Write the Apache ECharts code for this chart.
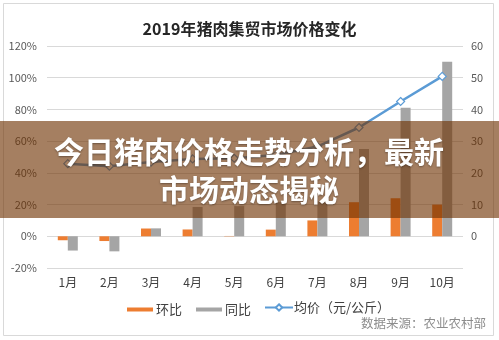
<!DOCTYPE html>
<html>
<head>
<meta charset="utf-8">
<script src="https://cdn.jsdelivr.net/npm/echarts@6/dist/echarts.min.js"></script>
<style>
  html, body { margin: 0; padding: 0; background: #fff; }
  #chart { width: 499px; height: 340px; }
</style>
</head>
<body>
<div id="chart"></div>
<script>
// Months on the category axis
const months = ['1月', '2月', '3月', '4月', '5月', '6月', '7月', '8月', '9月', '10月'];
// Month-on-month change (环比), fraction
const momChange = [-0.025, -0.03, 0.049, 0.043, 0.002, 0.042, 0.10, 0.215, 0.24, 0.20];
// Year-on-year change (同比), fraction
const yoyChange = [-0.09, -0.095, 0.05, 0.185, 0.19, 0.215, 0.22, 0.55, 0.81, 1.10];
// Average market price, yuan per kg
const avgPrice = [22.9, 22.1, 23.4, 24.4, 24.6, 25.6, 28.3, 34.3, 42.5, 50.4];
// Left axis ticks (percent) and right axis ticks (yuan)
const leftTicks = { min: -0.2, max: 1.2, step: 0.2 };
const rightTicks = { min: -10, max: 60, step: 10 };

const FONT = '"Noto Sans CJK SC", "Noto Sans", sans-serif';
const chart = echarts.init(document.getElementById('chart'), null, { renderer: 'canvas' });

chart.setOption({
  backgroundColor: '#ffffff',
  animation: false,
  title: {
    text: '2019年猪肉集贸市场价格变化',
    left: 'center',
    top: 14,
    textStyle: { fontFamily: FONT, fontSize: 16, fontWeight: 'bold', color: '#262626', lineHeight: 20 }
  },
  grid: { left: 47, right: 36, top: 46, bottom: 72, containLabel: false },
  legend: [
    {
      data: ['环比', '同比'],
      left: 122, top: 298,
      itemWidth: 26, itemHeight: 4, itemGap: 14,
      icon: 'rect',
      textStyle: { fontFamily: FONT, fontSize: 13, color: '#404040', padding: [0, 0, 0, -2] }
    },
    {
      data: ['均价（元/公斤）'],
      left: 259, top: 296,
      itemWidth: 28, itemHeight: 8,
      textStyle: { fontFamily: FONT, fontSize: 13, color: '#404040', padding: [0, 0, 0, -4] }
    }
  ],
  xAxis: {
    type: 'category',
    data: months,
    axisLine: { onZero: false, show: false },
    axisTick: { show: false },
    axisLabel: { fontFamily: FONT, fontSize: 12, color: '#404040', margin: 8 }
  },
  yAxis: [
    {
      type: 'value',
      min: leftTicks.min, max: leftTicks.max, interval: leftTicks.step,
      axisLine: { show: false }, axisTick: { show: false },
      splitLine: { lineStyle: { color: '#d9d9d9', width: 1 } },
      axisLabel: {
        fontFamily: FONT, fontSize: 11, color: '#595959', margin: 10,
        formatter: v => Math.round(v * 100) + '%'
      }
    },
    {
      type: 'value',
      min: rightTicks.min, max: rightTicks.max, interval: rightTicks.step,
      axisLine: { show: false }, axisTick: { show: false },
      splitLine: { show: false },
      axisLabel: {
        fontFamily: FONT, fontSize: 11, color: '#595959', margin: 8,
        formatter: v => (v < 0 ? '' : String(v))
      }
    }
  ],
  series: [
    {
      name: '环比', type: 'bar', data: momChange,
      barWidth: 10, barGap: '0%',
      itemStyle: { color: '#ed7d31' }
    },
    {
      name: '同比', type: 'bar', data: yoyChange,
      barWidth: 10, barGap: '0%',
      itemStyle: { color: '#a5a5a5' }
    },
    {
      name: '均价（元/公斤）', type: 'line', yAxisIndex: 1, data: avgPrice,
      symbol: 'diamond', symbolSize: 8, showSymbol: true,
      lineStyle: { color: '#5b9bd5', width: 2.5 },
      itemStyle: { color: '#ffffff', borderColor: '#5b9bd5', borderWidth: 1.2 },
      z: 5
    }
  ],
  graphic: [
    {
      type: 'rect', z: 0, silent: true,
      shape: { x: 3.5, y: 3.5, width: 490, height: 332 },
      style: { fill: 'none', stroke: '#d9d9d9', lineWidth: 1 }
    },
    {
      type: 'text', z: 0, silent: true,
      x: 486, y: 323,
      style: {
        text: '数据来源：农业农村部', fill: '#8c8c8c',
        fontFamily: FONT, fontSize: 12.5, align: 'right', verticalAlign: 'middle'
      }
    },
    {
      type: 'rect', z: 100, silent: true,
      shape: { x: 0, y: 121, width: 499, height: 97 },
      style: { fill: 'rgba(110,48,0,0.62)' }
    },
    {
      type: 'text', z: 101, silent: true,
      x: 249, y: 171,
      style: {
        text: '今日猪肉价格走势分析，最新\n市场动态揭秘',
        fill: '#ffffff', fontFamily: FONT, fontSize: 30, fontWeight: 'bold',
        align: 'center', verticalAlign: 'middle', lineHeight: 38,
        textShadowColor: 'rgba(0,0,0,0.35)', textShadowBlur: 2, textShadowOffsetY: 1
      }
    }
  ]
});
</script>
</body>
</html>
